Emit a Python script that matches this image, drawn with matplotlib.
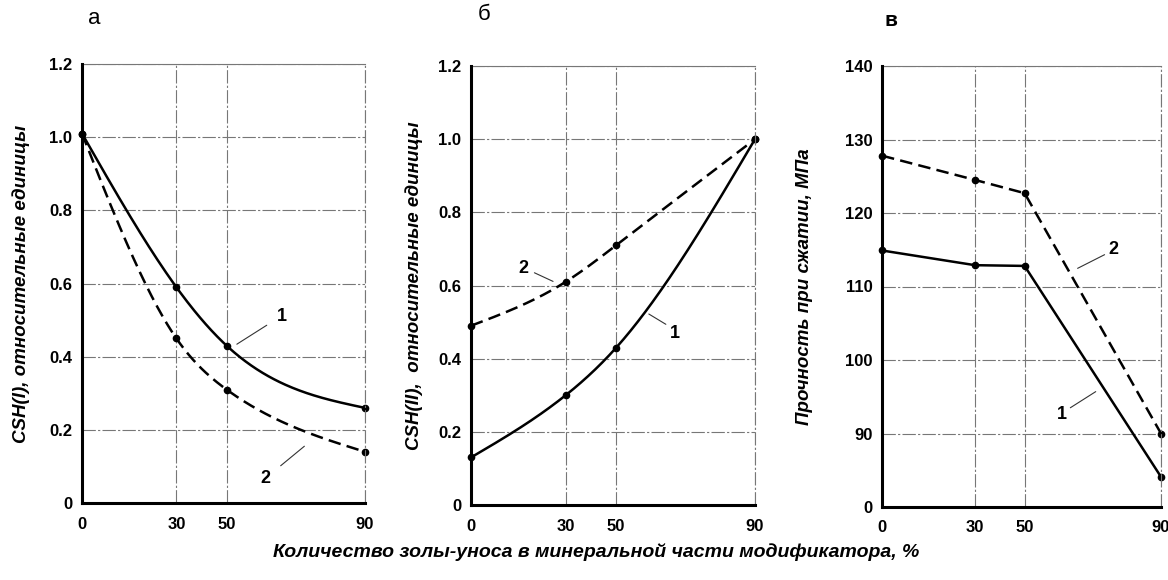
import numpy as np
import matplotlib
matplotlib.use("Agg")
import matplotlib.pyplot as plt

plt.rcParams['font.family'] = ['Liberation Sans', 'DejaVu Sans']

# x positions of the fly-ash share ticks (the "50" gridline sits a bit left of true scale)
x_labels = ['0', '30', '50', '90']
x_at = [0, 30, 46, 90]

# panel a: CSH(I), relative units
a_curve1 = [1.01, 0.59, 0.43, 0.26]
a_curve2 = [1.01, 0.45, 0.31, 0.14]
# panel b: CSH(II), relative units
b_curve1 = [0.13, 0.30, 0.43, 1.00]
b_curve2 = [0.49, 0.61, 0.71, 1.00]
# panel c: compressive strength, MPa
c_curve1 = [114.9, 112.9, 112.8, 84.1]
c_curve2 = [127.8, 124.5, 122.7, 90.0]

a_yticks = [0, 0.2, 0.4, 0.6, 0.8, 1.0, 1.2]
a_ylabels = ['0', '0.2', '0.4', '0.6', '0.8', '1.0', '1.2']
c_yticks = [80, 90, 100, 110, 120, 130, 140]
c_ylabels = ['0', '90', '100', '110', '120', '130', '140']

GRID_LS = (0, (12, 2, 2, 2))


def smooth(x, y, n=200):
    # natural cubic spline, only used to draw the smooth curve through the points
    x = np.asarray(x, float); y = np.asarray(y, float)
    npts = len(x); h = np.diff(x)
    A = np.zeros((npts, npts)); r = np.zeros(npts)
    A[0, 0] = A[-1, -1] = 1
    for i in range(1, npts - 1):
        A[i, i - 1] = h[i - 1]; A[i, i] = 2 * (h[i - 1] + h[i]); A[i, i + 1] = h[i]
        r[i] = 6 * ((y[i + 1] - y[i]) / h[i] - (y[i] - y[i - 1]) / h[i - 1])
    M = np.linalg.solve(A, r)
    xs = np.linspace(x[0], x[-1], n)
    k = np.clip(np.searchsorted(x, xs) - 1, 0, npts - 2)
    t1 = x[k + 1] - xs; t0 = xs - x[k]; hk = h[k]
    ys = (M[k] * t1**3 + M[k + 1] * t0**3) / (6 * hk) \
        + (y[k] / hk - M[k] * hk / 6) * t1 + (y[k + 1] / hk - M[k + 1] * hk / 6) * t0
    return xs, ys


def box(l, r, t, b):
    return [l / 1168, 1 - b / 580, (r - l) / 1168, (b - t) / 580]


def style(ax, yticks, ylabels, ylim, ylabel, label_x):
    ax.set_xlim(0, 90)
    ax.set_ylim(*ylim)
    ax.set_xticks(x_at)
    ax.set_xticklabels(x_labels, fontsize=12, fontweight='bold')
    ax.set_yticks(yticks)
    ax.set_yticklabels(ylabels, fontsize=12, fontweight='bold')
    ax.tick_params(axis='y', length=0, pad=7)
    ax.tick_params(axis='x', length=0, pad=10)
    ax.grid(True, color='#777777', lw=0.8, linestyle=GRID_LS)
    ax.set_axisbelow(True)
    for s in ['top', 'right']:
        ax.spines[s].set_visible(False)
    for s in ['left', 'bottom']:
        ax.spines[s].set_linewidth(2.2)
    ax.axhline(ylim[1], color='#777777', lw=0.8, clip_on=False)
    ax.axvline(90, color='#777777', lw=0.8, linestyle=GRID_LS, clip_on=False)
    ax.set_ylabel(ylabel, fontsize=13.5, fontstyle='italic', fontweight='bold')
    ax.yaxis.set_label_coords(label_x, 0.5)


def draw(ax, y1, y2, curved=True):
    for y, ls in [(y1, '-'), (y2, (0, (5, 2.5)))]:
        if curved:
            xs, ys = smooth(x_at, y)
        else:
            xs, ys = x_at, y
        ax.plot(xs, ys, color='black', lw=1.8, linestyle=ls, clip_on=False)
        ax.plot(x_at, y, 'o', color='black', ms=4.5, clip_on=False)


def label(ax, txt, xy_text, xy_line_start, xy_line_end):
    ax.annotate('', xy=xy_line_end, xytext=xy_line_start,
                arrowprops=dict(arrowstyle='-', color='#333333', lw=0.8))
    ax.text(*xy_text, txt, fontsize=13, fontweight='bold', ha='center', va='center')


fig = plt.figure(figsize=(11.68, 5.8), dpi=100)

ax1 = fig.add_axes(box(82, 365, 64, 503))
draw(ax1, a_curve1, a_curve2)
style(ax1, a_yticks, a_ylabels, (0, 1.2), 'CSH(I), относительные единицы', -0.184)
label(ax1, '1', (63.5, 0.51), (59.5, 0.49), (48.5, 0.43))
label(ax1, '2', (58.4, 0.067), (62.5, 0.097), (71.4, 0.16))

ax2 = fig.add_axes(box(471, 755, 66, 505))
draw(ax2, b_curve1, b_curve2)
style(ax2, a_yticks, a_ylabels, (0, 1.2), 'CSH(II),  относительные единицы', -0.169)
label(ax2, '2', (16.7, 0.647), (19.3, 0.638), (26.8, 0.608))
label(ax2, '1', (64.7, 0.47), (62.5, 0.49), (55.6, 0.526))

ax3 = fig.add_axes(box(882, 1161, 66, 507))
draw(ax3, c_curve1, c_curve2, curved=False)
style(ax3, c_yticks, c_ylabels, (80, 140), 'Прочность при сжатии, МПа', -0.247)
ax3.tick_params(axis='x', pad=9)
label(ax3, '2', (74.5, 115.0), (72.6, 114.5), (62.3, 112.3))
label(ax3, '1', (58.0, 92.6), (60.0, 93.3), (69.7, 95.9))

# panel letters
fig.text(94 / 1168, 1 - 19 / 580, 'а', fontsize=16, ha='center', va='center')
fig.text(484 / 1168, 1 - 15 / 580, 'б', fontsize=16, ha='center', va='center')
fig.text(891 / 1168, 1 - 20 / 580, 'в', fontsize=15, fontweight='bold', ha='center', va='center')

fig.text(596 / 1168, 1 - 552 / 580, 'Количество золы-уноса в минеральной части модификатора, %',
         fontsize=14, fontstyle='italic', fontweight='bold', ha='center', va='center')

fig.savefig('out.png', dpi=100)
